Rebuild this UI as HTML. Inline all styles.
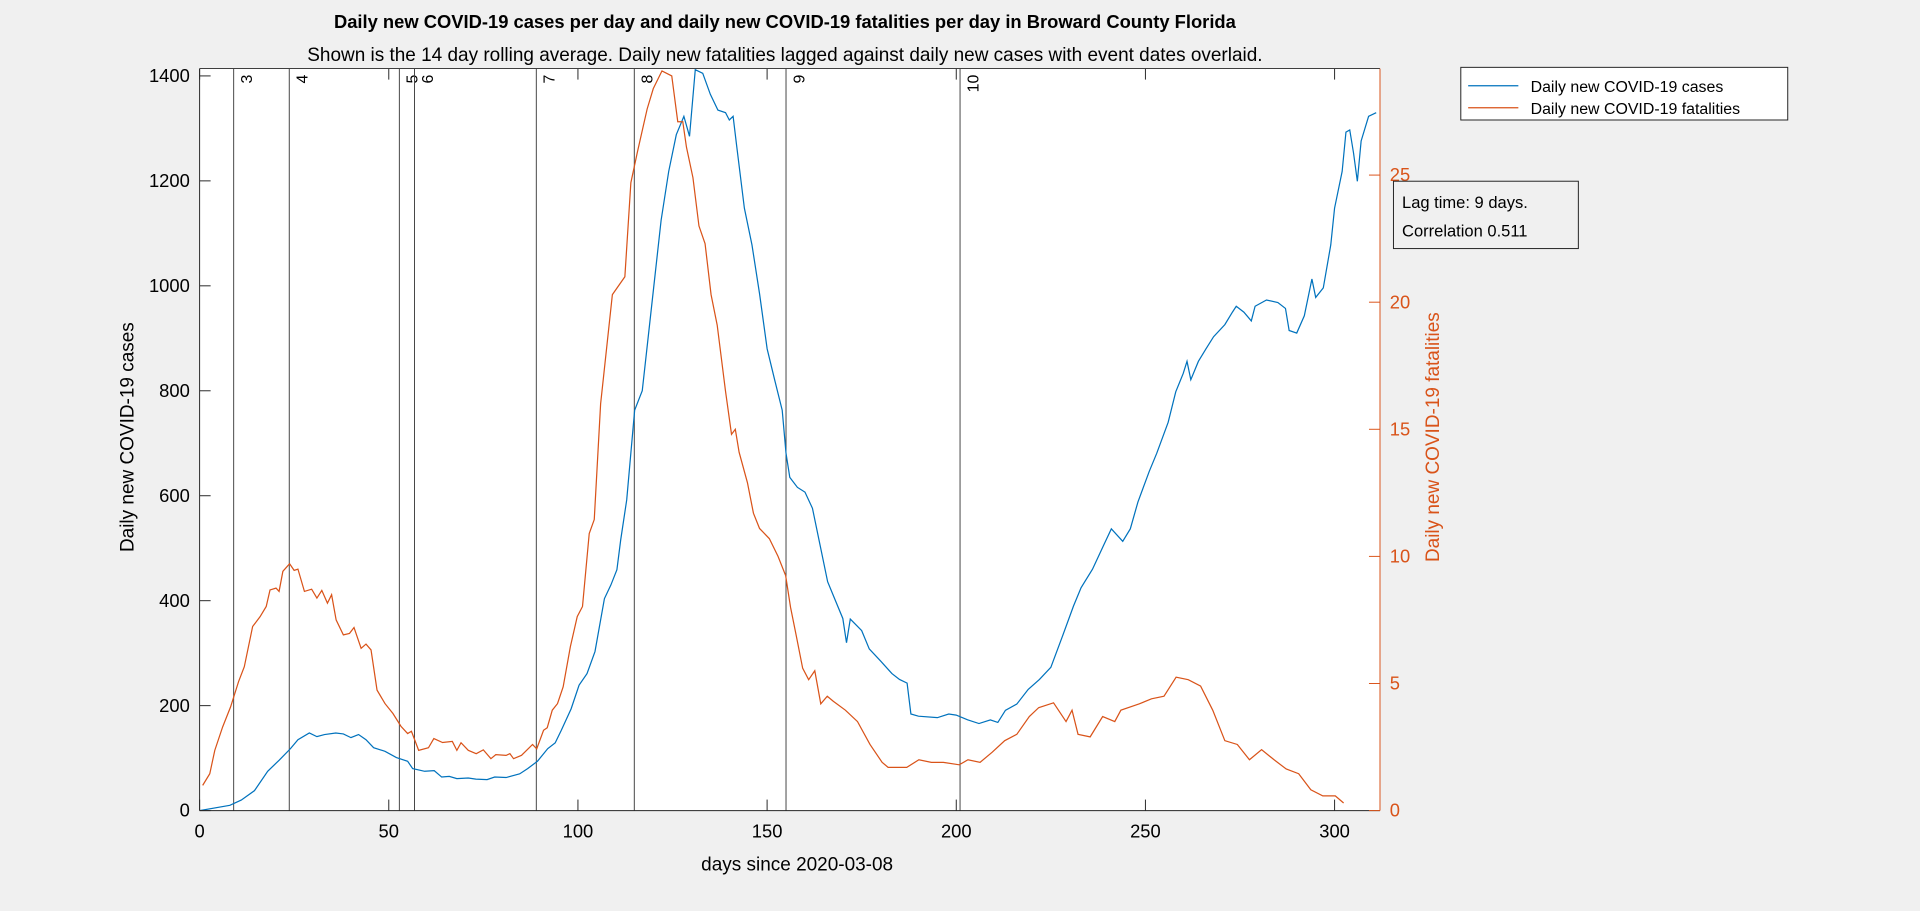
<!DOCTYPE html>
<html><head><meta charset="utf-8"><style>
html,body{margin:0;padding:0;background:#f0f0f0;}
svg{display:block;font-family:"Liberation Sans",Arial,sans-serif;}
</style></head><body>
<svg id="chart" width="1920" height="911" viewBox="0 0 1568 744">
<rect x="0" y="0" width="1568" height="744" fill="#f0f0f0"/>
<rect x="163" y="56" width="964" height="606" fill="#ffffff"/>
<g id="events"></g>
<g id="series"></g>
<g id="axes"></g>
<text x="641" y="23" text-anchor="middle" font-size="15" font-weight="bold">Daily new COVID-19 cases per day and daily new COVID-19 fatalities per day in Broward County Florida</text>
<text x="641" y="50" text-anchor="middle" font-size="15.5">Shown is the 14 day rolling average. Daily new fatalities lagged against daily new cases with event dates overlaid.</text>
<text x="651" y="711" text-anchor="middle" font-size="15.5">days since 2020-03-08</text>
<text transform="translate(109,357) rotate(-90)" text-anchor="middle" font-size="15.5">Daily new COVID-19 cases</text>
<text transform="translate(1175,357) rotate(-90)" text-anchor="middle" font-size="15.5" fill="#D95319">Daily new COVID-19 fatalities</text>
<g>
<rect x="1193" y="55" width="267" height="43" fill="#fff" stroke="#222" stroke-width="0.8"/>
<line x1="1199" y1="70" x2="1240" y2="70" stroke="#0072BD" stroke-width="1"/>
<text x="1250" y="75" font-size="13">Daily new COVID-19 cases</text>
<line x1="1199" y1="88" x2="1240" y2="88" stroke="#D95319" stroke-width="1"/>
<text x="1250" y="93" font-size="13">Daily new COVID-19 fatalities</text>
</g>
<g>
<rect x="1138" y="148" width="151" height="55" fill="#f0f0f0" stroke="#222" stroke-width="0.8"/>
<text x="1145" y="170" font-size="13.5">Lag time: 9 days.</text>
<text x="1145" y="193" font-size="13.5">Correlation 0.511</text>
</g>
</svg>
<script>
const casesDays=[0,8,11,14.5,18,21,24,26,29,31,33,36,38,40,42,44,46,49,52,55,56.3,59.5,62,64,66,68,71,73,76,78,81,84.6,86.7,89.3,92,94,95.6,98.2,100.3,102.4,104.5,107,108.7,110.3,111.3,112.9,115,117,120,122,124,126,128,129.5,131,133,135,137,139,140,141,142,144,146,148,150,152,154,155,156,158,160,162,164,166,168,170,171,172,175,177,180,183,185,187,188,190,195,198,200,203,206,209,211,213,216,219,222,225,228,231,233,236,239,241,244,246,248,251,253,256,258,260,261,262,264,266,268,271,273,274,276,278,279,282,285,287,288,290,292,294,295,297,299,300,302,303,304,305,306,307,309,311];
const casesVals=[0,10,20,38,75,96,118,135,148,141,145,148,146,139,145,135,120,113,101,94,80,75,76,64,65,61,62,60,59,64,63,70,80,94,118,129,153,194,239,261,303,404,430,459,516,592,763,800,996,1125,1218,1288,1323,1285,1412,1405,1365,1335,1330,1316,1323,1265,1148,1078,985,880,821,763,681,635,616,607,576,506,436,401,366,320,365,343,308,285,261,250,243,184,180,177,184,182,173,166,173,168,191,203,231,250,273,331,390,425,460,506,537,513,537,588,646,681,740,798,833,856,821,856,880,903,926,950,961,950,933,961,973,968,957,915,910,943,1013,978,996,1078,1148,1218,1293,1297,1253,1199,1276,1323,1330];
const fatalDays=[0.8,2.7,4,6.1,8.2,10.3,11.8,14,16,17.6,18.6,20.2,21,22,23.8,25,26,27.7,29.6,31,32.3,33.8,34.9,36.1,38,39.6,40.8,42.7,44,45.3,46.9,49,51.1,53.2,55,56,57.9,60.5,61.9,64.2,66.8,68,69.1,71,73.1,75,77,78.3,81,82,83,85.1,88,89.1,90.9,91.9,93.2,94.6,96.1,98,99.8,101.2,103,104.3,106,109.1,112.4,114,115.7,118.3,119.9,122.2,124.8,126.4,127.7,128.7,130.4,132,133.6,135.2,136.8,139,140.6,141.6,142.6,144.8,146.4,148,150.6,152.9,154.9,156.2,157.8,159.4,161,162.6,164.2,165.9,167.5,170.7,173.9,177.2,180.4,182,186.9,190.1,193.4,196.6,200.8,203.1,206.3,209.5,212.8,216,219.3,221.8,225.7,229,230.6,232.2,235.4,238.7,241.9,243.5,248.4,251.6,254.9,258.1,261.3,264.6,267.8,271,274.3,277.5,280.7,284,287.2,290.5,293.7,296.9,300.2,302.4];
const fatalVals=[0.99,1.45,2.37,3.29,4.08,5.07,5.66,7.24,7.63,8.03,8.68,8.75,8.62,9.41,9.71,9.45,9.5,8.62,8.71,8.36,8.66,8.16,8.49,7.5,6.91,6.97,7.2,6.38,6.55,6.32,4.74,4.21,3.82,3.32,3.03,3.12,2.37,2.47,2.83,2.68,2.72,2.37,2.67,2.37,2.24,2.39,2.04,2.2,2.17,2.24,2.04,2.17,2.6,2.43,3.16,3.26,3.95,4.21,4.87,6.45,7.63,8.03,10.9,11.45,16,20.3,21,24.7,25.9,27.6,28.4,29.1,28.9,27.1,27.1,26.1,24.9,23,22.3,20.3,19.1,16.5,14.8,15,14.1,12.9,11.7,11.1,10.7,10,9.25,8,6.8,5.6,5.15,5.5,4.2,4.5,4.3,3.95,3.5,2.6,1.9,1.7,1.7,2.0,1.9,1.9,1.8,2.0,1.9,2.3,2.75,3.0,3.7,4.05,4.24,3.5,3.95,3.0,2.9,3.7,3.5,3.95,4.2,4.4,4.5,5.25,5.15,4.9,3.95,2.75,2.6,2.0,2.4,2.0,1.64,1.45,0.82,0.58,0.58,0.3];
const eventDays=[9,23.7,52.8,56.8,89,114.9,155,201];
const eventLabels=["3","4","5","6","7","8","9","10"];
const xTicks=[0,50,100,150,200,250,300];
const leftTicks=[0,200,400,600,800,1000,1200,1400];
const rightTicks=[0,5,10,15,20,25];

(function(){
const L=163,R=1127,T=56,B=662;
const XMAX=312,YMAX=1414,Y2MAX=29.19;
function xs(d){return L+d/XMAX*(R-L);}
function ys(v){return B-v/YMAX*(B-T);}
function ys2(v){return B-v/Y2MAX*(B-T);}
const NS="http://www.w3.org/2000/svg";
function mk(tag,attrs,parent){const e=document.createElementNS(NS,tag);for(const k in attrs)e.setAttribute(k,attrs[k]);parent.appendChild(e);return e;}
const gE=document.getElementById('events'),gS=document.getElementById('series'),gA=document.getElementById('axes');

eventDays.forEach((d,i)=>{
  const x=xs(d);
  const ln=mk('line',{x1:x,y1:T,x2:x,y2:B,stroke:'#444','stroke-width':0.8},gE);
  
  
  const t=mk('text',{transform:`translate(${x+15},${T+5}) rotate(-90)`,'text-anchor':'end','font-size':13},gE);
  t.textContent=eventLabels[i];
  
  
});

const clip=mk('clipPath',{id:'pc'},gS);mk('rect',{x:L,y:T,width:R-L,height:B-T},clip);
const nc=Math.min(casesDays.length,casesVals.length);
const pc=[];for(let i=0;i<nc;i++)pc.push(xs(casesDays[i]).toFixed(1)+','+ys(Math.min(casesVals[i],YMAX+3)).toFixed(1));
const cl=mk('polyline',{points:pc.join(' '),fill:'none',stroke:'#0072BD','stroke-width':1,'clip-path':'url(#pc)'},gS);


const nf=Math.min(fatalDays.length,fatalVals.length);
const pf=[];for(let i=0;i<nf;i++)pf.push(xs(fatalDays[i]).toFixed(1)+','+ys2(Math.min(fatalVals[i],Y2MAX+0.1)).toFixed(1));
const fl=mk('polyline',{points:pf.join(' '),fill:'none',stroke:'#D95319','stroke-width':1,'clip-path':'url(#pc)'},gS);



const topAx=mk('line',{x1:L,y1:T,x2:R,y2:T,stroke:'#262626','stroke-width':0.8},gA);


const botAx=mk('line',{x1:L,y1:B,x2:R,y2:B,stroke:'#262626','stroke-width':0.8},gA);


const leftAx=mk('line',{x1:L,y1:T,x2:L,y2:B,stroke:'#262626','stroke-width':0.8},gA);


const rightAx=mk('line',{x1:R,y1:T,x2:R,y2:B,stroke:'#D95319','stroke-width':0.8},gA);



xTicks.forEach(v=>{
  const x=xs(v);
  mk('line',{x1:x,y1:B,x2:x,y2:B-9,stroke:'#262626','stroke-width':0.8},gA);
  mk('line',{x1:x,y1:T,x2:x,y2:T+9,stroke:'#262626','stroke-width':0.8},gA);
  const t=mk('text',{x:x,y:B+22,'text-anchor':'middle','font-size':15},gA);
  t.textContent=v;
  
  
});
leftTicks.forEach(v=>{
  const y=ys(v);
  mk('line',{x1:L,y1:y,x2:L+9,y2:y,stroke:'#262626','stroke-width':0.8},gA);
  const t=mk('text',{x:L-8,y:y+5,'text-anchor':'end','font-size':15},gA);
  t.textContent=v;
  
  
});
rightTicks.forEach(v=>{
  const y=ys2(v);
  mk('line',{x1:R,y1:y,x2:R-9,y2:y,stroke:'#D95319','stroke-width':0.8},gA);
  const t=mk('text',{x:R+8,y:y+5,'font-size':15,fill:'#D95319'},gA);
  t.textContent=v;
  
  
});
})();
</script>
</body></html>
